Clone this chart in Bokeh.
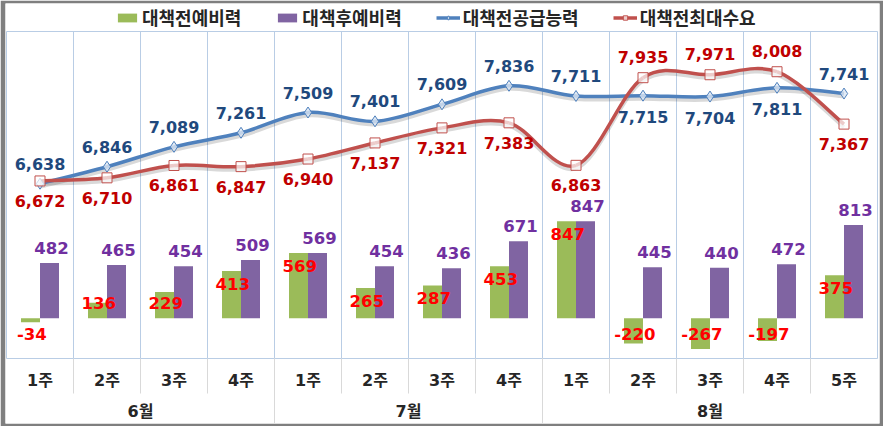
from bokeh.plotting import figure
from bokeh.models import Range1d, Legend, LegendItem
from bokeh.core.properties import value
from bokeh.embed import file_html
from bokeh.resources import INLINE

# ---------------- data ----------------
weeks = ["1주", "2주", "3주", "4주", "1주", "2주", "3주", "4주",
         "1주", "2주", "3주", "4주", "5주"]
months = ["6월"] * 4 + ["7월"] * 4 + ["8월"] * 5
month_names = ["6월", "7월", "8월"]
before_reserve = [-34, 136, 229, 413, 569, 265, 287, 453, 847, -220, -267, -197, 375]
after_reserve = [482, 465, 454, 509, 569, 454, 436, 671, 847, 445, 440, 472, 813]
supply = [6638, 6846, 7089, 7261, 7509, 7401, 7609, 7836, 7711, 7715, 7704, 7811, 7741]
demand = [6672, 6710, 6861, 6847, 6940, 7137, 7321, 7383, 6863, 7935, 7971, 8008, 7367]
series_names = ["대책전예비력", "대책후예비력", "대책전공급능력", "대책전최대수요"]

# axis ranges (bars on primary, lines on secondary)
BAR_MIN, BAR_MAX = -350, 2500
LINE_MIN, LINE_MAX = 4500, 8500

# ---------------- geometry (pixels) ----------------
W, H = 883, 426
BL, BR, BT, BB = 5, 4, 3, 3
FL, FR, FT, FB = BL, W - BR, BT, H - BB
PA_L, PA_R, PA_T, PA_B = 6, 877, 31, 358
WEEK_ROW_BOTTOM = 393
WEEK_LABEL_Y, MONTH_LABEL_Y = 380, 411

n = len(weeks)
ux = (PA_R - PA_L) / n
x_start = (FL - PA_L) / ux
x_end = n + (FR - PA_R) / ux

kb = (BAR_MAX - BAR_MIN) / (PA_B - PA_T)   # bar units per px
kl = (LINE_MAX - LINE_MIN) / (PA_B - PA_T)  # line units per px


def bar_at(py):
    return BAR_MIN + (PA_B - py) * kb


p = figure(width=W, height=H, x_range=Range1d(x_start, x_end),
           y_range=Range1d(bar_at(FB), bar_at(FT)),
           output_backend="svg", toolbar_location=None,
           x_axis_location=None, y_axis_location=None,
           min_border_left=BL, min_border_right=BR,
           min_border_top=BT, min_border_bottom=BB,
           border_fill_color="#7F7F7F", background_fill_color="white",
           outline_line_color=None)
p.grid.visible = False
p.extra_y_ranges = {"line": Range1d(LINE_MIN - (FB - PA_B) * kl,
                                    LINE_MAX + (PA_T - FT) * kl)}

GRID = "#B9CDE5"
# vertical gridlines & plot-area frame
p.segment(x0=list(range(n + 1)), x1=list(range(n + 1)),
          y0=[bar_at(PA_B)] * (n + 1), y1=[bar_at(PA_T)] * (n + 1),
          line_color=GRID, line_width=1)
p.segment(x0=[0, 0], x1=[n, n], y0=[bar_at(PA_T), bar_at(PA_B)],
          y1=[bar_at(PA_T), bar_at(PA_B)], line_color=GRID, line_width=1)
# category separators in the label rows
p.segment(x0=list(range(1, n)), x1=list(range(1, n)),
          y0=[bar_at(PA_B)] * (n - 1), y1=[bar_at(WEEK_ROW_BOTTOM)] * (n - 1),
          line_color="#D9D9D9", line_width=1)
bounds = [i for i in range(1, n) if months[i] != months[i - 1]]
p.segment(x0=bounds, x1=bounds, y0=[bar_at(PA_B)] * len(bounds),
          y1=[bar_at(FB)] * len(bounds), line_color="#D9D9D9", line_width=1)

# ---------------- bars ----------------
bw = 19 / ux
off = bw / 2
xc = [i + 0.5 for i in range(n)]
g_r = p.vbar(x=[x - off for x in xc], top=before_reserve, bottom=0, width=bw,
             fill_color="#9BBB59", line_color=None)
v_r = p.vbar(x=[x + off for x in xc], top=after_reserve, bottom=0, width=bw,
             fill_color="#8064A2", line_color=None)

# ---------------- smooth lines ----------------
def smooth(vals):
    pts = list(zip(xc, vals))
    seg = {k: [] for k in ["x0", "y0", "x1", "y1", "cx0", "cy0", "cx1", "cy1"]}
    for i in range(len(pts) - 1):
        p0 = pts[max(i - 1, 0)]
        p1 = pts[i]
        p2 = pts[i + 1]
        p3 = pts[min(i + 2, len(pts) - 1)]
        seg["x0"].append(p1[0]); seg["y0"].append(p1[1])
        seg["x1"].append(p2[0]); seg["y1"].append(p2[1])
        seg["cx0"].append(p1[0] + (p2[0] - p0[0]) / 6)
        seg["cy0"].append(p1[1] + (p2[1] - p0[1]) / 6)
        seg["cx1"].append(p2[0] - (p3[0] - p1[0]) / 6)
        seg["cy1"].append(p2[1] - (p3[1] - p1[1]) / 6)
    return seg


def shifted(seg, dy):
    s = dict(seg)
    for k in ["y0", "y1", "cy0", "cy1"]:
        s[k] = [v - dy for v in seg[k]]
    return s


BLUE, RED = "#4F81BD", "#C0504D"
sup_seg = smooth(supply)
dem_seg = smooth(demand)
for seg in (sup_seg, dem_seg):
    p.bezier(**shifted(seg, 3 * kl), line_color="#000000", line_alpha=0.15,
             line_width=4, y_range_name="line")
b_line = p.bezier(**sup_seg, line_color=BLUE, line_width=3.5, y_range_name="line")
r_line = p.bezier(**dem_seg, line_color=RED, line_width=3.5, y_range_name="line")
b_mk = p.scatter(xc, supply, marker="diamond", size=11, fill_color="#DCE6F2",
                 fill_alpha=0.8, line_color=BLUE, line_width=1, y_range_name="line")
r_mk = p.scatter(xc, demand, marker="square", size=10, fill_color="white",
                 fill_alpha=0.7, line_color=RED, line_width=1, y_range_name="line")

# ---------------- labels ----------------
NUM = value("DejaVu Sans")
fmt = [f"{v:,}" for v in supply]
flip = [d > s and i > 0 for i, (s, d) in enumerate(zip(supply, demand))]
sup_y = [v + (-21 * kl if f else 20 * kl) for v, f in zip(supply, flip)]
dem_y = [v + (21 * kl if f else -20 * kl) for v, f in zip(demand, flip)]
common = dict(text_font=NUM, text_font_style="bold", text_align="center",
              text_baseline="middle")
p.text(x=xc, y=sup_y, text=fmt, text_color="#1F497D", text_font_size="16px",
       y_range_name="line", **common)
p.text(x=xc, y=dem_y, text=[f"{v:,}" for v in demand], text_color="#C00000",
       text_font_size="16px", y_range_name="line", **common)
p.text(x=[x + off + 0.03 for x in xc], y=[v + 15 * kb for v in after_reserve],
       text=[str(v) for v in after_reserve], text_color="#7030A0",
       text_font_size="16.5px", **common)
g_y = [max(v - 13 * kb, 15 * kb) if v > 0 else -16 * kb for v in before_reserve]
p.text(x=[x - off + 0.02 for x in xc], y=g_y,
       text=[str(v) for v in before_reserve], text_color="#FF0000",
       text_font_size="16.5px", **common)

# category axis labels
CAT = value("DejaVu Sans, Noto Sans CJK KR")
p.text(x=xc, y=[bar_at(WEEK_LABEL_Y)] * n, text=weeks, text_color="#262626",
       text_font=CAT, text_font_style="bold", text_font_size="16px",
       text_align="center", text_baseline="middle")
m_x = [sum(i + 0.5 for i in range(n) if months[i] == m) / months.count(m)
       for m in month_names]
p.text(x=m_x, y=[bar_at(MONTH_LABEL_Y)] * len(month_names), text=month_names,
       text_color="#262626", text_font=CAT, text_font_style="bold",
       text_font_size="16px", text_align="center", text_baseline="middle")

# ---------------- legend ----------------
legend = Legend(items=[LegendItem(label=series_names[0], renderers=[g_r]),
                       LegendItem(label=series_names[1], renderers=[v_r]),
                       LegendItem(label=series_names[2], renderers=[b_line, b_mk]),
                       LegendItem(label=series_names[3], renderers=[r_line, r_mk])],
                orientation="horizontal", location=(110, 393),
                label_text_font="Noto Sans CJK KR",
                label_text_font_style="bold", label_text_font_size="18px",
                label_text_color="#262626", glyph_width=24, glyph_height=11,
                spacing=34, label_standoff=3, padding=0, margin=0,
                border_line_color=None, background_fill_alpha=0)
p.add_layout(legend)

open("out.html", "w").write(file_html(p, INLINE))
